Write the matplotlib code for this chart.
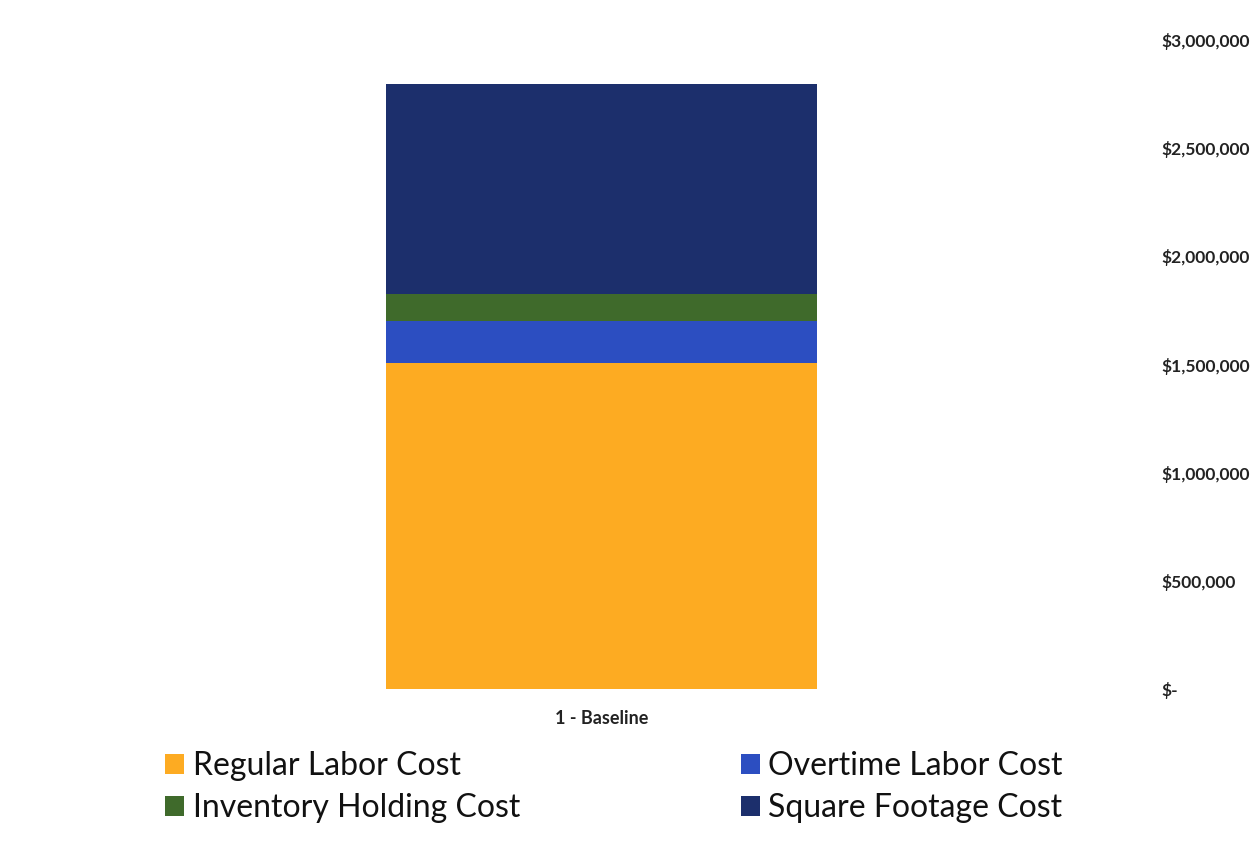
import matplotlib
matplotlib.use("Agg")
import matplotlib.pyplot as plt
from matplotlib.ticker import FuncFormatter, MultipleLocator
from matplotlib.patches import Patch

plt.rcParams['font.family'] = ['Lato', 'DejaVu Sans']

# Cost breakdown for the baseline scenario (USD)
categories = ["1 - Baseline"]
series_names = ["Regular Labor Cost", "Overtime Labor Cost",
                "Inventory Holding Cost", "Square Footage Cost"]
regular_labor = [1505000]
overtime_labor = [194000]
inventory_holding = [125000]
square_footage = [972000]
series_values = [regular_labor, overtime_labor, inventory_holding, square_footage]
colors = ["#FDAB22", "#2C4EC1", "#3F6A2B", "#1C2F6C"]

W, H = 1257, 841
fig = plt.figure(figsize=(W / 100, H / 100), dpi=100)
ax = fig.add_axes([40 / W, 1 - 689 / H, 1110 / W, (689 - 40) / H])

x = list(range(len(categories)))
bottom = [0] * len(categories)
for vals, col in zip(series_values, colors):
    ax.bar(x, vals, width=0.6, bottom=bottom, color=col, linewidth=0)
    bottom = [b + v for b, v in zip(bottom, vals)]

ax.set_xlim(-0.7817, 0.7636)
ax.set_ylim(0, 3000000)
ax.yaxis.set_major_locator(MultipleLocator(500000))


def money(v, pos):
    if v == 0:
        return "$-"
    return "${:,.0f}".format(v)


ax.yaxis.set_major_formatter(FuncFormatter(money))
ax.yaxis.tick_right()
ax.tick_params(axis='y', length=0, pad=8, labelsize=12.5, colors='#222222')
for lbl in ax.get_yticklabels():
    lbl.set_fontweight('bold')
    lbl.set_horizontalalignment('left')

ax.set_xticks(x)
ax.set_xticklabels(categories, fontsize=13, fontweight='bold', color='#222222')
ax.tick_params(axis='x', length=0, pad=15)

for s in ax.spines.values():
    s.set_visible(False)

handles = [Patch(facecolor=c, edgecolor='none') for c in colors]
order = [0, 2, 1, 3]
fig.legend([handles[i] for i in order], [series_names[i] for i in order],
           ncol=2, loc='center left', bbox_to_anchor=(165 / W, 1 - 787 / H),
           borderpad=0, borderaxespad=0,
           frameon=False, fontsize=23, handlelength=0.6, handleheight=0.6,
           handletextpad=0.27, columnspacing=6.9, labelspacing=0.38,
           labelcolor='#111111')

fig.savefig("out.png", dpi=100, facecolor='white')
